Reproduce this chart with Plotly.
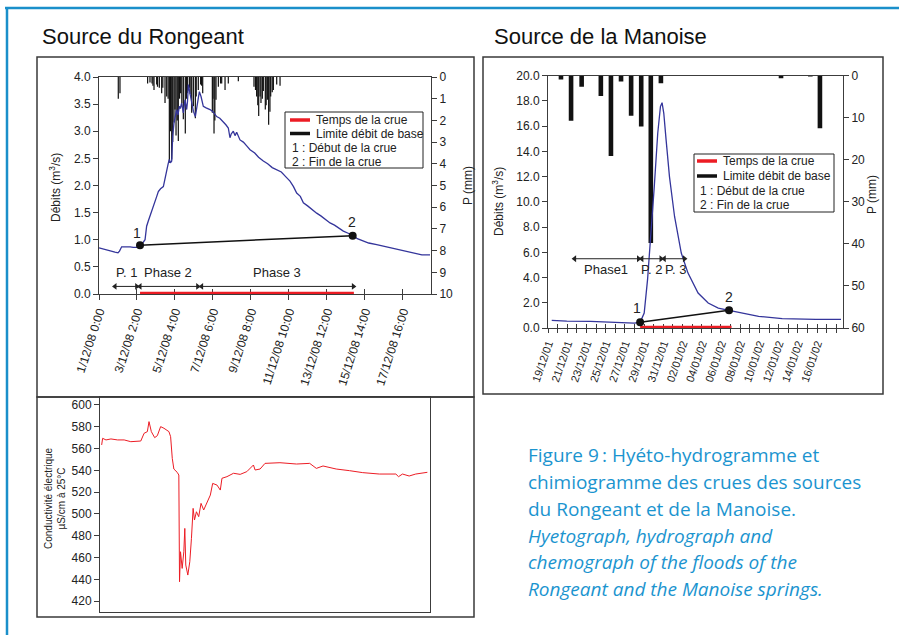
import plotly.graph_objects as go

W, H = 899, 635
def px(x): return x / W
def py(y): return 1 - y / H

FONT = "Liberation Sans, Arial, sans-serif"
INK = "#222222"
AXIS = "#3c3c3c"
BLUE = "#34359b"
RED = "#ec1c24"
CAPTION = "#1b94cf"

# ---------------- Source du Rongeant (hours since 1/12/08 0:00) ----------------
rong_tick_hours = [0, 50, 100, 150, 200, 250, 300, 350, 400]
rong_tick_labels = ["1/12/08 0:00", "3/12/08 2:00", "5/12/08 4:00", "7/12/08 6:00",
                    "9/12/08 8:00", "11/12/08 10:00", "13/12/08 12:00",
                    "15/12/08 14:00", "17/12/08 16:00"]

rong_discharge = [
    (0, 0.85), (5, 0.83), (10, 0.80), (16, 0.79), (21, 0.77), (25, 0.76), (27, 0.79),
    (29.8, 0.87), (33, 0.87), (36.4, 0.88), (41, 0.87), (45.2, 0.86), (50, 0.86),
    (54.0, 0.89), (57, 0.93), (60.6, 1.0), (62.7, 1.25), (65, 1.35), (67.1, 1.43),
    (70, 1.55), (73.7, 1.68), (76, 1.80), (78.1, 1.89), (81, 1.94), (84.7, 1.98),
    (87, 2.15), (89.1, 2.29), (91, 2.40), (92.6, 2.48), (94, 2.42), (95.7, 2.45),
    (96.5, 2.75), (97.0, 2.91), (98.7, 3.15), (100.5, 3.25), (102.2, 3.40), (104, 3.30),
    (105.7, 3.46), (107, 3.42), (108.8, 3.52), (111.0, 3.34), (113.2, 3.58), (115.4, 3.40),
    (116.5, 3.55), (117.6, 3.86), (119.8, 3.70), (122.0, 3.49), (124.2, 3.37), (126.8, 3.27),
    (128.5, 3.40), (129.9, 3.52), (132.1, 3.73), (134.3, 3.64), (137.3, 3.46), (141, 3.43),
    (146.1, 3.40), (150, 3.36), (154.9, 3.27), (159, 3.24), (163.7, 3.18), (167, 3.12),
    (170.2, 3.06), (172.4, 2.88), (174, 2.95), (176.8, 3.00), (179, 2.92), (181.2, 2.98),
    (185.6, 2.84), (190, 2.80), (195, 2.72), (198.8, 2.66), (205, 2.60), (210, 2.52),
    (216.3, 2.45), (222, 2.40), (228, 2.33), (233.9, 2.29), (240, 2.25), (246, 2.16),
    (251.4, 2.08), (256, 1.98), (260.2, 1.86), (265, 1.80), (269.0, 1.68), (275, 1.62),
    (280, 1.56), (286.5, 1.49), (292, 1.44), (298, 1.37), (304.1, 1.31), (310, 1.27),
    (316, 1.21), (321.6, 1.16), (328, 1.12), (333.9, 1.08), (340, 1.02), (347.9, 0.97),
    (355, 0.94), (365.5, 0.91), (375, 0.88), (383, 0.85), (391.8, 0.82), (400, 0.79),
    (410, 0.76), (418.1, 0.73), (425, 0.72), (435.7, 0.72),
]
rong_q_hours = [p[0] for p in rong_discharge]
rong_q = [p[1] for p in rong_discharge]

rong_rain = [
    (25.4, 1.0), (27.6, 0.75), (64, 0.3), (67.1, 0.25), (69.8, 0.3), (71, 0.4), (72.4, 0.6),
    (75.9, 0.35), (77, 0.45), (79.4, 0.5), (82.5, 0.75), (84, 0.5), (86.9, 1.2), (89.1, 0.9),
    (91, 1.0), (92.6, 3.95), (94, 2.5), (95.7, 3.8), (97, 3.0), (98.7, 2.1), (100, 1.5),
    (101.4, 2.7), (103, 2.0), (104.4, 2.95), (106, 1.0), (107.5, 0.75), (109, 1.2),
    (111.0, 1.95), (113.6, 2.6), (115, 1.0), (116.3, 0.75), (118.9, 0.5), (120, 0.8),
    (122.0, 1.65), (124.2, 1.35), (126.8, 1.9), (128, 0.9), (130.7, 0.6), (133.8, 0.35),
    (135, 0.4), (136.5, 0.75), (149.2, 1.65), (150, 1.0), (151.4, 2.6), (152.5, 2.0),
    (154.0, 1.05), (157.1, 0.45), (160, 0.3), (161.5, 0.3), (165.9, 0.6), (170.2, 0.3),
    (183.4, 0.2), (204.0, 0.45), (206, 0.6), (207.5, 0.9), (209, 1.3), (210.2, 1.8),
    (212, 0.9), (213.2, 1.2), (215, 1.0), (216.3, 0.65), (218.9, 1.5), (220, 1.3),
    (221.6, 1.05), (223.3, 2.2), (225, 1.6), (226.0, 0.9), (228, 0.7), (229.5, 0.6),
    (233.9, 0.35), (238.3, 0.4),
]
rong_rain_hours = [p[0] for p in rong_rain]
rong_rain_mm = [p[1] for p in rong_rain]

rong_crue_hours = [54.0, 333.9]
rong_crue_q = [0.90, 1.075]
rong_flood_span = [54.0, 335.5]
rong_phase_start = [21.1, 54.0, 135.1]
rong_phase_end = [49.6, 129.9, 334.8]
rong_phase_mid = [36.4, 91.3, 233.9]
rong_phase_names = ["P. 1", "Phase 2", "Phase 3"]

# conductivity (µS/cm at 25°C), hours since 1/12/08 0:00
cond_series = [
    (2.2, 563.3), (3.5, 569.4), (7.9, 567.9), (14.5, 568.8), (23.3, 567.9), (32.0, 567.9),
    (40.8, 566.3), (49.6, 566.3), (54.0, 566.9), (58.4, 574.0), (62.7, 575.5), (64.9, 584.7),
    (68.0, 575.5), (72.4, 570.0), (75.9, 571.8), (80.3, 580.1), (84.7, 578.6), (91.3, 575.5),
    (93.5, 570.9), (95.7, 551.0), (97.8, 541.2), (102.2, 538.2), (104.4, 535.7), (105.3, 437.8),
    (106.6, 465.3), (108.8, 450.0), (111.0, 465.3), (112.3, 486.7), (113.6, 453.1),
    (116.3, 443.9), (118.9, 456.1), (121.1, 477.6), (123.3, 505.1), (125.1, 494.4),
    (127.7, 502.0), (130.7, 497.5), (133.8, 509.7), (137.3, 503.6), (141.7, 511.2),
    (146.1, 517.3), (149.2, 528.0), (154.9, 526.5), (159.3, 521.9), (161.5, 532.7),
    (168.1, 534.2), (176.8, 537.3), (185.6, 536.3), (194.4, 538.8), (203.2, 544.9),
    (205.4, 540.3), (212.0, 541.2), (218.5, 546.4), (238.3, 547.0), (260.2, 545.8),
    (277.7, 546.4), (286.5, 541.8), (295.3, 544.0), (312.8, 541.2), (330.4, 539.7),
    (347.9, 537.9), (369.9, 536.6), (391.8, 536.6), (395.3, 534.2), (400.6, 536.6),
    (409.4, 534.8), (418.1, 536.6), (433.5, 538.2),
]
cond_hours = [p[0] for p in cond_series]
cond_values = [p[1] for p in cond_series]

# ---------------- Source de la Manoise (days since 19/12/01) ----------------
man_tick_days = list(range(31))
man_tick_labels = ["19/12/01", "", "21/12/01", "", "23/12/01", "", "25/12/01", "", "27/12/01", "",
                   "29/12/01", "", "31/12/01", "", "02/01/02", "", "04/01/02", "", "06/01/02", "",
                   "08/01/02", "", "10/01/02", "", "12/01/02", "", "14/01/02", "", "16/01/02", "", ""]

man_discharge = [
    (0.39, 0.61), (1.96, 0.55), (4.41, 0.52), (6.16, 0.47), (7.91, 0.43), (8.96, 0.38),
    (9.59, 0.45), (10.01, 1.19), (10.36, 3.83), (10.71, 7.26), (11.06, 11.21), (11.42, 15.44),
    (11.70, 17.55), (11.87, 17.86), (12.05, 17.02), (12.29, 14.91), (12.64, 12.0),
    (13.17, 8.84), (13.87, 5.94), (14.57, 4.35), (15.62, 2.77), (16.67, 1.98), (17.72, 1.58),
    (18.84, 1.40), (20.17, 1.19), (21.92, 0.92), (24.37, 0.74), (26.12, 0.69), (27.87, 0.69),
    (30.49, 0.69),
]
man_q_days = [p[0] for p in man_discharge]
man_q = [p[1] for p in man_discharge]

man_rain_days = [1.35, 2.4, 3.5, 5.5, 6.55, 7.6, 8.65, 9.7, 10.7, 11.75, 24.25, 27.3, 28.3]
man_rain_mm = [0.9, 10.7, 2.6, 4.8, 19.1, 1.4, 9.5, 12.1, 39.8, 1.8, 0.6, 0.2, 12.5]

man_crue_days = [9.59, 18.84]
man_crue_q = [0.45, 1.40]
man_flood_span = [9.59, 19.1]
man_phase_start = [2.77, 9.77, 12.1]
man_phase_end = [9.42, 11.76, 14.2]
man_phase_mid = [5.99, 10.75, 13.25]
man_phase_names = ["Phase1", "P. 2", "P. 3"]

# ---------------- figure ----------------
fig = go.Figure()

def phase_arrows(starts, ends, yval, xa, ya):
    for s, e in zip(starts, ends):
        fig.add_trace(go.Scatter(x=[s, e], y=[yval, yval], xaxis=xa, yaxis=ya,
                                 mode="lines+markers", cliponaxis=False, hoverinfo="skip",
                                 line=dict(color="#222222", width=1),
                                 marker=dict(symbol=["triangle-left", "triangle-right"],
                                             size=6, color="#222222")))

# Rongeant rain (main y axis = P, reversed)
fig.add_trace(go.Bar(x=rong_rain_hours, y=rong_rain_mm, xaxis="x", yaxis="y", width=1.6,
                     marker=dict(color="#111111", line=dict(width=0)), hoverinfo="skip"))
fig.add_trace(go.Scatter(x=[0], y=[0], xaxis="x4", yaxis="y", mode="markers",
                         marker=dict(opacity=0), hoverinfo="skip"))
fig.add_trace(go.Scatter(x=rong_q_hours, y=rong_q, xaxis="x", yaxis="y2", mode="lines",
                         line=dict(color=BLUE, width=1.3)))
phase_arrows(rong_phase_start, rong_phase_end, 0.14, "x", "y2")
fig.add_trace(go.Scatter(x=rong_flood_span, y=[0, 0], xaxis="x", yaxis="y2", mode="lines",
                         line=dict(color=RED, width=4.5), cliponaxis=False))
fig.add_trace(go.Scatter(x=rong_crue_hours, y=rong_crue_q, xaxis="x", yaxis="y2",
                         mode="lines+markers", line=dict(color="#111111", width=1.5),
                         marker=dict(size=8, color="#111111"), cliponaxis=False))

# Manoise
fig.add_trace(go.Bar(x=man_rain_days, y=man_rain_mm, xaxis="x2", yaxis="y3", width=0.48,
                     marker=dict(color="#111111", line=dict(width=0)), hoverinfo="skip"))
fig.add_trace(go.Scatter(x=[0], y=[0], xaxis="x5", yaxis="y3", mode="markers",
                         marker=dict(opacity=0), hoverinfo="skip"))
fig.add_trace(go.Scatter(x=man_q_days, y=man_q, xaxis="x2", yaxis="y4", mode="lines",
                         line=dict(color=BLUE, width=1.3)))
phase_arrows(man_phase_start, man_phase_end, 5.49, "x2", "y4")
fig.add_trace(go.Scatter(x=man_flood_span, y=[0, 0], xaxis="x2", yaxis="y4", mode="lines",
                         line=dict(color=RED, width=4.5), cliponaxis=False))
fig.add_trace(go.Scatter(x=man_crue_days, y=man_crue_q, xaxis="x2", yaxis="y4",
                         mode="lines+markers", line=dict(color="#111111", width=1.5),
                         marker=dict(size=8, color="#111111"), cliponaxis=False))

# Conductivity
fig.add_trace(go.Scatter(x=cond_hours, y=cond_values, xaxis="x3", yaxis="y5", mode="lines",
                         line=dict(color=RED, width=1)))

tickfont = dict(family=FONT, size=12, color=INK)
common = dict(showgrid=False, zeroline=False, showline=True, linecolor=AXIS, linewidth=1,
              ticks="outside", ticklen=5, tickcolor=AXIS, tickwidth=1, tickfont=tickfont,
              layer="below traces", fixedrange=True, automargin=False)
overlay_ticks = dict(showgrid=False, zeroline=False, showline=False, ticks="inside", ticklen=5,
                     tickcolor=AXIS, tickwidth=1, showticklabels=False, layer="below traces",
                     fixedrange=True, tickmode="array", automargin=False)

layout = dict(
    width=W, height=H, margin=dict(l=0, r=0, t=0, b=0, pad=0, autoexpand=False),
    paper_bgcolor="white", plot_bgcolor="rgba(0,0,0,0)", showlegend=False,
    font=dict(family=FONT, color=INK),
    xaxis=dict(common, domain=[px(99), px(431)], range=[0, 437], anchor="y",
               tickmode="array", tickvals=rong_tick_hours, ticktext=rong_tick_labels,
               tickangle=-72, mirror=True),
    yaxis=dict(common, domain=[py(294), py(77)], range=[10, 0], side="right", anchor="x",
               tick0=0, dtick=1),
    yaxis2=dict(common, overlaying="y", side="left", anchor="x", range=[0, 4], dtick=0.5,
                tick0=0, tickformat=".1f"),
    xaxis4=dict(overlay_ticks, overlaying="x", anchor="y", range=[0, 437],
                tickvals=rong_tick_hours),
    xaxis2=dict(common, domain=[px(548), px(843)], range=[0, 30.7], anchor="y3",
                tickmode="array", tickvals=man_tick_days, ticktext=man_tick_labels,
                tickangle=-71, mirror=True, tickfont=dict(family=FONT, size=11, color=INK),
                ticklen=4),
    yaxis3=dict(common, domain=[py(328), py(75.7)], range=[60, 0], side="right", anchor="x2",
                tick0=0, dtick=10),
    yaxis4=dict(common, overlaying="y3", side="left", anchor="x2", range=[0, 20], dtick=2,
                tick0=0, tickformat=".1f"),
    xaxis5=dict(overlay_ticks, overlaying="x2", anchor="y3", range=[0, 30.7],
                tickvals=man_tick_days, ticklen=4),
    xaxis3=dict(common, domain=[px(100), px(430)], range=[0, 437], anchor="y5",
                showticklabels=False, ticks="", mirror=True),
    yaxis5=dict(common, domain=[py(612), py(397)], range=[410, 607.3], anchor="x3",
                tick0=0, dtick=20, mirror=True),
)
fig.update_layout(**layout)

shapes = []
ann = []

def box(x0, y0, x1, y1, color="#3a3a3a", width=1.5):
    shapes.append(dict(type="rect", xref="paper", yref="paper", x0=px(x0), x1=px(x1),
                       y0=py(y1), y1=py(y0), line=dict(color=color, width=width),
                       fillcolor="rgba(0,0,0,0)", layer="above"))

def hline(x0, x1, y, color, width):
    shapes.append(dict(type="line", xref="paper", yref="paper", x0=px(x0), x1=px(x1),
                       y0=py(y), y1=py(y), line=dict(color=color, width=width), layer="above"))

def text(x, y, s, size=12, xanchor="left", angle=0, color=INK, family=FONT, yanchor="middle"):
    ann.append(dict(xref="paper", yref="paper", x=px(x), y=py(y), text=s, showarrow=False,
                    xanchor=xanchor, yanchor=yanchor, textangle=angle,
                    font=dict(family=family, size=size, color=color)))

# blue page frame
shapes.append(dict(type="line", xref="paper", yref="paper", x0=px(5), x1=1, y0=py(8), y1=py(8),
                   line=dict(color="#1a8fca", width=2.5)))
shapes.append(dict(type="line", xref="paper", yref="paper", x0=px(7), x1=px(7), y0=py(7), y1=0,
                   line=dict(color="#1a8fca", width=2.5)))

# panel boxes
box(37, 57, 474, 397)
box(37, 397, 474, 617)
box(483, 57, 883, 394)

# titles
text(40, 37, "Source du Rongeant", size=22, color="#111111")
text(492, 37, "Source de la Manoise", size=22, color="#111111")

# axis titles
text(55, 188, "Débits (m<sup>3</sup>/s)", size=12, xanchor="center", angle=-90)
text(468, 185, "P (mm)", size=12, xanchor="center", angle=-90)
text(498, 202, "Débits (m<sup>3</sup>/s)", size=12, xanchor="center", angle=-90)
text(872, 195, "P (mm)", size=12, xanchor="center", angle=-90)
text(55, 498, "Conductivité électrique<br>µS/cm à 25°C", size=10, xanchor="center", angle=-90)

# legends
box(285, 112, 423, 168, color="#222222", width=1)
hline(290, 310, 120, RED, 3.5)
hline(290, 310, 133.5, "#111111", 3.5)
text(314, 120, "Temps de la crue")
text(314, 133.5, "Limite débit de base")
text(290, 148, "1 : Début de la crue")
text(290, 162, "2 : Fin de la crue")

box(694, 154, 834, 212, color="#222222", width=1)
hline(697, 717, 161, RED, 3.5)
hline(697, 717, 176, "#111111", 3.5)
text(721, 161, "Temps de la crue")
text(721, 176, "Limite débit de base")
text(698, 191, "1 : Début de la crue")
text(698, 205, "2 : Fin de la crue")

# phase labels
for m, name in zip(rong_phase_mid, rong_phase_names):
    ann.append(dict(xref="x", yref="y2", x=m, y=0.40, text=name, showarrow=False,
                    font=dict(family=FONT, size=13, color=INK)))
for m, name in zip(man_phase_mid, man_phase_names):
    ann.append(dict(xref="x2", yref="y4", x=m, y=4.62, text=name, showarrow=False,
                    font=dict(family=FONT, size=13, color=INK)))

# point labels 1 / 2
for xv, yv, lab in [(50.5, 1.12, "1"), (333, 1.33, "2")]:
    ann.append(dict(xref="x", yref="y2", x=xv, y=yv, text=lab, showarrow=False,
                    font=dict(family=FONT, size=14, color=INK)))
for xv, yv, lab in [(9.24, 1.58, "1"), (18.84, 2.45, "2")]:
    ann.append(dict(xref="x2", yref="y4", x=xv, y=yv, text=lab, showarrow=False,
                    font=dict(family=FONT, size=14, color=INK)))

# caption
CAP_FONT = "Open Sans, Noto Sans, sans-serif"
caption_lines = ["Figure 9\u2009: Hyéto-hydrogramme et",
                 "chimiogramme des crues des sources",
                 "du Rongeant et de la Manoise.",
                 "<i>Hyetograph, hydrograph and</i>",
                 "<i>chemograph of the floods of the</i>",
                 "<i>Rongeant and the Manoise springs.</i>"]
caption_y = [455, 482, 509, 536, 562, 589]
for yv, s in zip(caption_y, caption_lines):
    text(526, yv, s, size=19, color=CAPTION, family=CAP_FONT)

fig.update_layout(shapes=shapes, annotations=ann)
fig.write_html("out.html", config={"displayModeBar": False, "staticPlot": True},
               post_script="document.body.style.margin='0';document.body.style.overflow='hidden';")
